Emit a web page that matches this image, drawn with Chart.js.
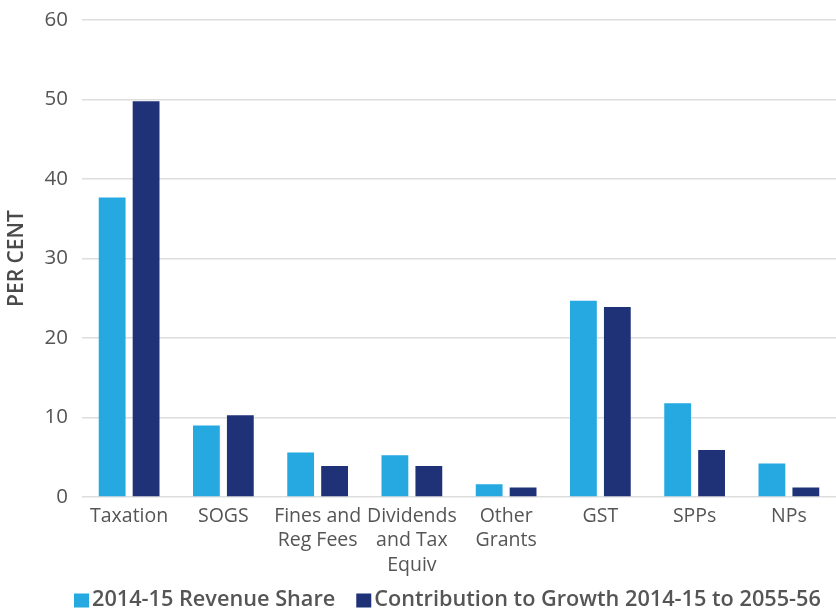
<!DOCTYPE html>
<html>
<head>
<meta charset="utf-8">
<script src="https://cdn.jsdelivr.net/npm/chart.js@4.4.1/dist/chart.umd.min.js"></script>
<style>
  html, body { margin: 0; padding: 0; background: #fff; }
  #wrap { width: 836px; height: 613px; position: relative; }
</style>
</head>
<body>
<div id="wrap"><canvas id="myChart"></canvas></div>
<script>
// categories and series
const categories = [
	'Taxation',
	'SOGS',
	['Fines and', 'Reg Fees'],
	['Dividends', 'and Tax', 'Equiv'],
	['Other', 'Grants'],
	'GST',
	'SPPs',
	'NPs'
];
const revenueShare = [37.7, 9.0, 5.6, 5.25, 1.6, 24.7, 11.8, 4.2];
const growthContribution = [49.8, 10.3, 3.9, 3.9, 1.2, 23.9, 5.9, 1.2];
const yTicks = [0, 10, 20, 30, 40, 50, 60];

const textColor = '#555555';

// legend drawn by hand: the box sits tight against its text in the original
const bottomLegend = {
	id: 'bottomLegend',
	afterDraw(chart) {
		const c = chart.ctx;
		c.save();
		c.font = '600 21.7px "Open Sans"';
		c.textBaseline = 'middle';
		c.textAlign = 'left';
		let x = 74;
		chart.data.datasets.forEach(ds => {
			c.fillStyle = ds.backgroundColor;
			c.fillRect(x, 593.5, 15, 14);
			c.fillStyle = textColor;
			c.fillText(ds.label, x + 18, 600);
			x += 18 + c.measureText(ds.label).width + 21;
		});
		c.restore();
	}
};

var ctx = document.getElementById('myChart').getContext('2d');

var myChart = new Chart(ctx, {
	type: 'bar',
	data: {
		labels: categories,
		datasets: [
			{
				label: '2014-15 Revenue Share',
				data: revenueShare,
				backgroundColor: '#25a9e0',
				categoryPercentage: 0.72,
				barPercentage: 0.79
			},
			{
				label: 'Contribution to Growth 2014-15 to 2055-56',
				data: growthContribution,
				backgroundColor: '#1f3278',
				categoryPercentage: 0.72,
				barPercentage: 0.79
			}
		]
	},
	plugins: [bottomLegend],
	options: {
		responsive: true,
		maintainAspectRatio: false,
		animation: false,
		layout: { padding: { top: 0, right: 0, bottom: 30, left: 0 } },
		plugins: {
			tooltip: { enabled: false },
			legend: { display: false }
		},
		scales: {
			x: {
				grid: { display: false },
				border: { display: false },
				ticks: {
					color: textColor,
					maxRotation: 0,
					autoSkip: false,
					padding: -1,
					font: { family: 'Open Sans', size: 19.5, lineHeight: '24.5px' }
				},
				afterFit: function(scale) { scale.height = 86; }
			},
			y: {
				min: 0,
				max: 60,
				afterBuildTicks: function(scale) {
					scale.ticks = yTicks.map(v => ({ value: v }));
				},
				grid: { color: '#dddddd', lineWidth: 1.5, drawTicks: false },
				border: { display: false },
				ticks: {
					color: textColor,
					padding: 14,
					font: { family: 'Open Sans', size: 20.5, lineHeight: 0.6 }
				},
				title: {
					display: true,
					text: 'PER CENT',
					color: '#4a4a4a',
					padding: { top: 4, bottom: 0 },
					font: { family: 'Open Sans', size: 21, weight: '600' }
				},
				afterFit: function(scale) { scale.width = 82; }
			}
		}
	}
});
</script>
</body>
</html>
